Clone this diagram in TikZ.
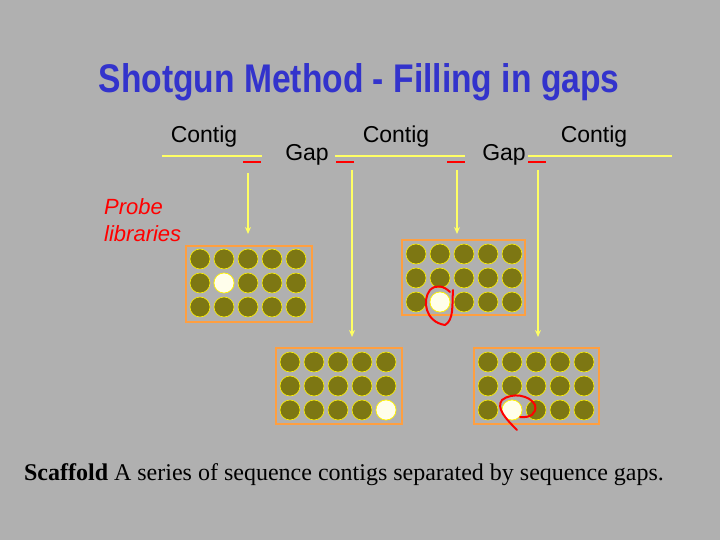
\documentclass[tikz,border=0pt]{standalone}
\usepackage{fontspec}
\usetikzlibrary{arrows.meta}
\setmainfont{Liberation Sans}
\newfontfamily\tms{Liberation Serif}
\definecolor{ly}{RGB}{255,255,100}
\definecolor{bg}{RGB}{176,176,176}
\definecolor{ttl}{RGB}{51,51,204}
\begin{document}
\begin{tikzpicture}[x=1pt,y=-1pt,
 ln/.style={draw=ly,line width=1.4pt},
 rd/.style={draw=red,line width=1.4pt},
 arr/.style={draw=ly,line width=1.5pt,-{Stealth[length=7pt,width=6pt]}},
 box/.style={draw=orange!75!white,line width=1.2pt},
 well/.style={circle,minimum size=20pt,inner sep=0pt,fill=olive!85!black,draw=yellow,line width=0.6pt},
 posw/.style={circle,minimum size=20pt,inner sep=0pt,fill=yellow!8!white,draw=yellow,line width=0.6pt},
 lbl/.style={font=\fontsize{23}{25}\selectfont,inner sep=0pt}]
\fill[bg] (0,0) rectangle (720,540);
\useasboundingbox (0,0) rectangle (720,540);
\node[font=\bfseries\fontsize{40}{42}\selectfont,text=ttl,inner sep=0pt,xscale=0.84] (title) at (359,82) {Shotgun Method - Filling in gaps};
\node[lbl] (c1) at (204,137) {Contig};
\node[lbl] (c2) at (396,137) {Contig};
\node[lbl] (c3) at (594,137) {Contig};
\node[lbl] (g1) at (307,155) {Gap};
\node[lbl] (g2) at (504,155) {Gap};
\draw[ln] (162,156) -- (262,156);
\draw[ln] (335,156) -- (465,156);
\draw[ln] (528,156) -- (672,156);
\foreach \a in {243,336,447,528} \draw[rd] (\a,162) -- (\a+18,162);
\node[font=\itshape\fontsize{22}{27}\selectfont,text=red,align=left,anchor=north west,inner sep=0pt] (probe) at (104,198) {Probe\\libraries};
\coordinate (a1) at (248,173); \coordinate (b1) at (248,234);
\coordinate (a2) at (352,170); \coordinate (b2) at (352,337);
\coordinate (a3) at (457,170); \coordinate (b3) at (457,234);
\coordinate (a4) at (538,170); \coordinate (b4) at (538,337);
\foreach \i in {1,...,4} \draw[arr] (a\i) -- (b\i);
\foreach \r in {0,1,2} \foreach \c in {0,...,4} {
 \node[well] (p\r\c) at (200+24*\c,259+24*\r) {};
 \node[well] (q\r\c) at (416+24*\c,254+24*\r) {};
 \node[well] (s\r\c) at (290+24*\c,362+24*\r) {};
 \node[well] (t\r\c) at (488+24*\c,362+24*\r) {};
}
\draw[box] (186,246) rectangle (312,322);
\draw[box] (402,240) rectangle (525,315);
\draw[box] (276,348) rectangle (402,424);
\draw[box] (474,348) rectangle (599,424);
\node[posw] (pw) at (224,283) {};
\node[posw] (qw) at (440,302) {};
\node[posw] (sw) at (386,410) {};
\node[posw] (tw) at (512,410) {};
\draw[red,line width=2pt,line cap=round] (445,325) .. controls (425,322) and (422,300) .. (430,290) .. controls (436,284) and (444,286) .. (450,292) (453,290) .. controls (452,305) and (454,320) .. (445,325);
\draw[red,line width=2pt,line cap=round] (517,430) .. controls (505,418) and (496,408) .. (502,400) .. controls (512,392) and (530,395) .. (535,405) .. controls (537,414) and (530,418) .. (520,417);
\node[font=\tms\fontsize{24}{26}\selectfont,inner sep=0pt] (cap) at (344,475) {\textbf{Scaffold} A series of sequence contigs separated by sequence gaps.};
\end{tikzpicture}
\end{document}
